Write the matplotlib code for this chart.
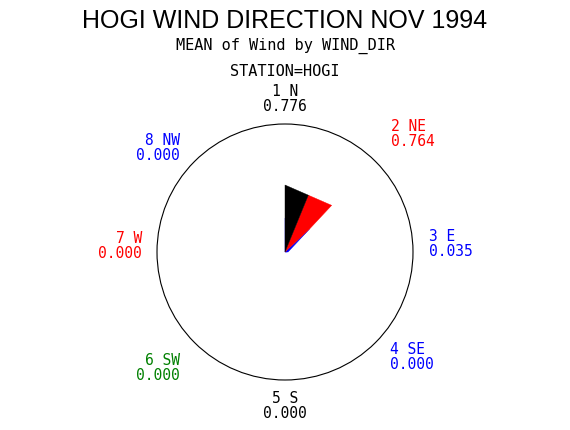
import matplotlib.pyplot as plt
from matplotlib.patches import Circle
import numpy as np

# wind direction data
dir_num = [1, 2, 3, 4, 5, 6, 7, 8]
dir_name = ['N', 'NE', 'E', 'SE', 'S', 'SW', 'W', 'NW']
mean_wind = [0.776, 0.764, 0.035, 0.000, 0.000, 0.000, 0.000, 0.000]
dir_color = ['black', 'red', 'blue', 'blue', 'black', 'green', 'red', 'blue']

W, H = 570, 430
cx, cy = 285, 252          # circle centre in pixels
k = 67 / 0.776             # pixels per data unit
R_circle = 128 / k

fig = plt.figure(figsize=(W / 100, H / 100), dpi=100)
ax = fig.add_axes([0, 0, 1, 1])
ax.set_xlim(-cx / k, (W - cx) / k)
ax.set_ylim(-(H - cy) / k, cy / k)
ax.axis('off')

# star points, compass angles clockwise from north
ang = np.deg2rad(90 - 45 * np.arange(8))
v = np.array(mean_wind)
px = v * np.cos(ang)
py = v * np.sin(ang)
for i in reversed(range(8)):
    p, n = (i - 1) % 8, (i + 1) % 8
    xs = [0, (px[p] + px[i]) / 2, px[i], (px[i] + px[n]) / 2]
    ys = [0, (py[p] + py[i]) / 2, py[i], (py[i] + py[n]) / 2]
    ax.fill(xs, ys, color=dir_color[i], lw=0.3, ec=dir_color[i])

ax.add_patch(Circle((0, 0), R_circle, fill=False, ec='black', lw=0.8))

mono = 'DejaVu Sans Mono'
fig.text(cx / W, 1 - 21 / H, 'HOGI WIND DIRECTION NOV 1994', ha='center', va='center',
         fontsize=18, family='Liberation Sans')
fig.text(cx / W, 1 - 46 / H, 'MEAN of Wind by WIND_DIR', ha='center', va='center',
         fontsize=11, family=mono)
fig.text(cx / W, 1 - 72 / H, 'STATION=HOGI', ha='center', va='center',
         fontsize=11, family=mono)

# label centre (x, y between the two lines) and alignment for each direction
lab_pos = [(285, 99, 'center'), (391, 134, 'left'), (429, 244, 'left'), (390, 357, 'left'),
           (285, 406, 'center'), (180, 368, 'right'), (142, 246, 'right'), (180, 148, 'right')]
for i in range(8):
    x, y, ha = lab_pos[i]
    fig.text(x / W, 1 - y / H, f'{dir_num[i]} {dir_name[i]}\n{mean_wind[i]:.3f}',
             ha=ha, va='center', multialignment=ha, linespacing=0.92,
             fontsize=10.5, family=mono, color=dir_color[i])

fig.savefig('out.png', dpi=100)
